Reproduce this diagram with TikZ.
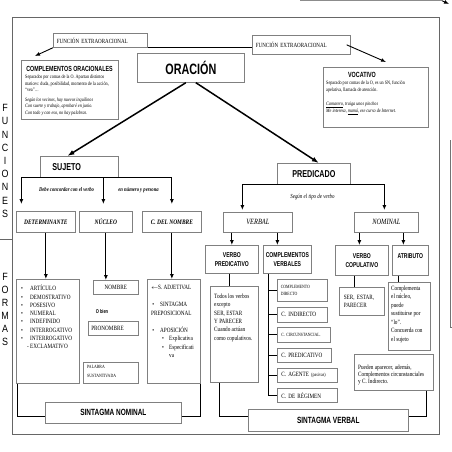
\documentclass[tikz,border=0pt]{standalone}
\usepackage{fontspec}
\setmainfont[FakeStretch=0.8]{Liberation Serif}
\newfontfamily\headfont[FakeStretch=0.72]{Liberation Sans}
\newfontfamily\sidefont[FakeStretch=0.85]{Liberation Sans}
\usetikzlibrary{arrows.meta}

\begin{document}
\begin{tikzpicture}[x=1pt,y=-1pt,
    box/.style={draw=black!50, line width=0.7pt, fill=white, inner sep=0pt, anchor=north west},
    hd/.style={font=\headfont\bfseries\fontsize{#1}{9}\selectfont},
    txt/.style={inner sep=0pt, anchor=north west, align=left},
    side/.style={font=\sidefont\fontsize{10.5}{10.5}\selectfont},
    arr/.style={line width=0.9pt, -{Latex[length=5pt,width=4pt]}},
    link/.style={line width=0.8pt},
    bigarr/.style={line width=1.5pt, -{Latex[length=7pt,width=5pt]}}]
    \useasboundingbox (0,0) rectangle (452,452);
    \draw[black!60, line width=0.8pt] (12,17) rectangle (439,434);

    % bits cut by the edges
    \coordinate (topA) at (300,0.7);
    \coordinate (topB) at (449,4);
    \draw[black!45, line width=1.3pt] (topA) -- ++(142,0) coordinate (topC);
    \draw[arr] (topC) -- (topB);
    \draw[black!55, line width=0.6pt] (450,140) -- (450,327) -- (452,327);

    % side labels
    \foreach \c [count=\i] in {F,U,N,C,I,O,N,E,S}
        \node[side] (fun\i) at (5,{94.8+13.2*\i}) {\c};
    \foreach \c [count=\i] in {F,O,R,M,A,S}
        \node[side] (for\i) at (5,{264+13*\i}) {\c};
    \draw[black!60, line width=0.6pt] (0,239) -- (12,239);

    % top row
    \node[box, minimum width=94pt, minimum height=14pt, text width=87pt, inner xsep=3.5pt, align=left,
        font=\fontsize{6.3}{7}\selectfont] (fextL) at (53,33) {FUNCIÓN EXTRAORACIONAL};
    \node[box, minimum width=98pt, minimum height=19pt, text width=91pt, inner xsep=3.5pt, align=left,
        font=\fontsize{6.3}{7}\selectfont] (fextR) at (252,35) {FUNCIÓN EXTRAORACIONAL};
    \node[box, hd=15, minimum width=107pt, minimum height=29pt] (oracion) at (137,53) {ORACIÓN};

    \node[box, minimum width=97pt, minimum height=59pt] (conOr) at (21,60) {};
    \node[hd=7.4] (conOrH) at (69.5,69) {COMPLEMENTOS ORACIONALES};
    \node[txt, font=\fontsize{5.2}{6.5}\selectfont] (conOrB) at (25,75) {Separados por comas de la O. Apartan distintos\\
        matices: duda, posibilidad, momento de la acción,\\
        “vea”…\\[3pt]
        \textit{Según los vecinos, hay nuevos inquilinos}\\
        \textit{Con suerte y trabajo, aprobaré en junio.}\\
        \textit{Con todo y con eso, no hay palabras.}};

    \node[box, minimum width=105pt, minimum height=60pt] (voc) at (323,67) {};
    \node[hd=7.5] (vocH) at (362,75) {VOCATIVO};
    \node[txt, font=\fontsize{5.2}{7}\selectfont] (vocB) at (326,81) {Separado por comas de la O, es un SN, función\\
        apelativa, llamada de atención.\\[7pt]
        \textit{\underline{Camarero}, traiga unos pinchos}\\
        \textit{Me interesa, \underline{mamá}, ese curso de Internet.}};

    \coordinate (conTip) at (35,56);
    \coordinate (vocTip) at (386,62);
    \draw[arr] (fextL.south west) -- (conTip);
    \draw[link] (fextL.south east) -- (fextL.south east -| fextR.west);
    \draw[arr] ([xshift=-4pt]fextR.east) -- (vocTip);

    % sujeto
    \node[box, hd=10, minimum width=78pt, minimum height=21pt, text width=54pt, inner xsep=12pt,
        align=left] (sujeto) at (40,156) {SUJETO};
    \draw[bigarr] ([xshift=-5pt]oracion.south) -- ([xshift=-12pt]sujeto.north);

    \node[box, font=\bfseries\itshape\fontsize{6.8}{8}\selectfont, minimum width=59pt, minimum height=21pt] (det) at (16,211) {DETERMINANTE};
    \node[box, font=\bfseries\itshape\fontsize{6.8}{8}\selectfont, minimum width=53pt, minimum height=21pt] (nuc) at (79,211) {NÚCLEO};
    \node[box, font=\bfseries\itshape\fontsize{6.8}{8}\selectfont, minimum width=59pt, minimum height=21pt] (cdn) at (142,211) {C. DEL NOMBRE};

    \draw[arr] (sujeto.south) -| ([xshift=-24.5pt,yshift=7pt]det.north);
    \draw[arr] ([xshift=-2.5pt]nuc.north |- sujeto.south) -- ([xshift=-2.5pt,yshift=7pt]nuc.north);
    \draw[arr] (sujeto.south) -| ([yshift=7pt]cdn.north);
    \node[font=\bfseries\itshape\fontsize{5.8}{7}\selectfont] (concord) at (66.5,190) {Debe concordar con el verbo};
    \node[font=\bfseries\itshape\fontsize{5.8}{7}\selectfont] (numper) at (138.5,190) {en número y persona};

    % formas del sintagma nominal
    \node[box, minimum width=63pt, minimum height=104pt] (detlist) at (16,279) {};
    \node[txt, font=\fontsize{6.5}{8.3}\selectfont] (detlistT) at (21,285) {\makebox[9pt][l]{•}ARTÍCULO\\
        \makebox[9pt][l]{•}DEMOSTRATIVO\\
        \makebox[9pt][l]{•}POSESIVO\\
        \makebox[9pt][l]{•}NUMERAL\\
        \makebox[9pt][l]{•}INDEFINIDO\\
        \makebox[9pt][l]{•}INTERROGATIVO\\
        \makebox[9pt][l]{•}INTERROGATIVO\\
        \makebox[9pt][r]{- }EXCLAMATIVO};

    \node[box, minimum width=45pt, minimum height=14pt, font=\fontsize{6.5}{8}\selectfont] (nombre) at (93,280) {NOMBRE};
    \node[hd=5.5] (obien) at (102,312) {O bien};
    \node[box, minimum width=50pt, minimum height=14pt, text width=44pt, inner xsep=3pt, align=left,
        font=\fontsize{6.5}{8}\selectfont] (pronombre) at (88,321) {PRONOMBRE};
    \node[box, minimum width=55pt, minimum height=21pt] (palabra) at (83,362) {};
    \node[txt, font=\fontsize{4.8}{8.5}\selectfont] (palabraT) at (87,365.5) {PALABRA\\SUSTANTIVADA};

    \node[box, minimum width=53pt, minimum height=104pt] (cdnlist) at (147,279) {};
    \node[txt, font=\fontsize{6.5}{8.5}\selectfont] (cdnlistT) at (151,285) {\makebox[7pt][l]{$\leftarrow$}S. ADJETIVAL\\[8.5pt]
        \makebox[9pt][l]{\,•}SINTAGMA\\
        PREPOSICIONAL\\[8.5pt]
        \makebox[9pt][l]{\,•}APOSICIÓN\\
        \hspace{11pt}\makebox[7pt][l]{•}Explicativa\\
        \hspace{11pt}\makebox[7pt][l]{•}Especificati\\
        \hspace{18pt}va};

    \draw[arr] (det.south) -- (det.south |- detlist.north);
    \draw[arr] (nuc.south) -- (nuc.south |- nombre.north);
    \draw[arr] (cdn.south) -- (cdn.south |- cdnlist.north);

    \node[box, hd=9, minimum width=136pt, minimum height=21pt] (sn) at (45,402) {SINTAGMA NOMINAL};
    \draw[link] ([xshift=1pt]detlist.south west) |- ([yshift=-3.5pt]sn.west);
    \draw[link] (cdnlist.south east) |- ([yshift=-3.5pt]sn.east);

    % predicado
    \node[box, hd=10, minimum width=73pt, minimum height=21pt] (predicado) at (277,163) {PREDICADO};
    \draw[bigarr] ([xshift=5pt]oracion.south) -- ([xshift=5pt]predicado.north);

    \node[box, font=\itshape\fontsize{8}{9}\selectfont, minimum width=69pt, minimum height=20pt] (verbal) at (223,212) {VERBAL};
    \node[box, font=\itshape\fontsize{8}{9}\selectfont, minimum width=64pt, minimum height=20pt] (nominal) at (354,212) {NOMINAL};
    \draw[arr] (predicado.south) -| ([xshift=-15.5pt,yshift=2pt]verbal.north);
    \draw[arr] (predicado.south) -| ([xshift=-2pt,yshift=2pt]nominal.north);
    \node[font=\itshape\fontsize{6.2}{7}\selectfont] (tipo) at (312.5,197) {Según el tipo de verbo};

    \node[box, hd=7, align=center, minimum width=53pt, minimum height=28pt] (vpred) at (205,245) {VERBO\\PREDICATIVO};
    \node[box, hd=7, align=center, minimum width=48pt, minimum height=28pt] (cverb) at (263,245) {COMPLEMENTOS\\VERBALES};
    \node[box, hd=7, align=center, minimum width=53pt, minimum height=30pt] (vcop) at (335,245) {VERBO\\COPULATIVO};
    \node[box, hd=7, align=center, minimum width=36pt, minimum height=30pt] (atrib) at (392,245) {ATRIBUTO\\ \mbox{}};

    \draw[arr] (vpred.north |- verbal.south) -- (vpred.north);
    \draw[arr] ([xshift=-10pt]cverb.north |- verbal.south) -- ([xshift=-10pt]cverb.north);
    \draw[arr] ([xshift=-2.5pt]vcop.north |- nominal.south) -- ([xshift=-2.5pt]vcop.north);
    \draw[arr] ([xshift=-7pt]atrib.north |- nominal.south) -- ([xshift=-7pt]atrib.north);

    \node[box, minimum width=48pt, minimum height=96pt] (todos) at (210,286) {};
    \node[txt, font=\fontsize{6.5}{8.4}\selectfont] (todosT) at (214,293.5) {Todos los verbos\\excepto\\SER, ESTAR\\Y PARECER\\Cuando actúan\\como copulativos.};
    \draw[link] ([xshift=-2.5pt]vpred.south) -- ([xshift=-2.5pt]vpred.south |- todos.north);

    % complementos verbales
    \node[box, minimum width=49pt, minimum height=22pt, text width=43pt, inner xsep=3.5pt, align=left,
        font=\fontsize{4.8}{6.3}\selectfont] (cd) at (277,279) {COMPLEMENTO\\DIRECTO};
    \node[box, minimum width=49pt, minimum height=15pt, text width=42pt, inner xsep=4pt, align=left,
        font=\fontsize{6.5}{8}\selectfont] (ci) at (277,307) {C. INDIRECTO};
    \node[box, minimum width=52pt, minimum height=15pt, text width=45pt, inner xsep=4pt, align=left,
        font=\fontsize{4.8}{6}\selectfont] (cc) at (277,327) {C. CIRCUNSTANCIAL.};
    \node[box, minimum width=53pt, minimum height=14pt, text width=46pt, inner xsep=4pt, align=left,
        font=\fontsize{6.5}{8}\selectfont] (cpred) at (277,348) {C. PREDICATIVO};
    \node[box, minimum width=59pt, minimum height=14pt, text width=52pt, inner xsep=4pt, align=left,
        font=\fontsize{6.5}{8}\selectfont] (cag) at (277,368) {C. AGENTE {\fontsize{5}{6}\selectfont(pasivas)}};
    \node[box, minimum width=59pt, minimum height=14pt, text width=52pt, inner xsep=4pt, align=left,
        font=\fontsize{6.5}{8}\selectfont] (creg) at (277,388) {C. DE RÉGIMEN};

    \coordinate (spine) at ([xshift=-19pt]cverb.south);
    \draw[link] (spine) |- (creg.west);
    \foreach \n in {cd,ci,cc,cpred,cag}
        \draw[link] (spine |- \n.west) -- (\n.west);

    % predicado nominal
    \node[box, minimum width=45pt, minimum height=28pt, text width=36pt, inner xsep=4.5pt, align=left,
        font=\fontsize{6.5}{8.5}\selectfont] (ser) at (339,287) {SER, ESTAR,\\PARECER};
    \draw[link] ([xshift=-7.5pt]vcop.south) -- ([xshift=-7.5pt]vcop.south |- ser.north);

    \node[box, minimum width=42pt, minimum height=68pt] (compl) at (388,282) {};
    \node[txt, font=\fontsize{6.5}{8.5}\selectfont] (complT) at (391,285.5) {Complementa\\el núcleo,\\puede\\sustituirse por\\“lo”.\\Concuerda con\\el sujeto};
    \draw[link] ([xshift=-12pt]atrib.south) -- ([xshift=-12pt]atrib.south |- compl.north);

    \node[box, minimum width=79pt, minimum height=36pt] (pueden) at (354,354) {};
    \node[txt, font=\fontsize{6.5}{7}\selectfont] (puedenT) at (358,364.5) {Pueden aparecer, además,\\Complementos circunstanciales\\y C. Indirecto.};

    \node[box, hd=9, minimum width=160pt, minimum height=22pt] (sv) at (248,409) {SINTAGMA VERBAL};
    \draw[link] ([xshift=9pt]todos.south west) |- ([yshift=4pt]sv.west);
    \draw[link] ([xshift=-7pt]pueden.south east) |- ([yshift=4pt]sv.east);
\end{tikzpicture}
\end{document}
